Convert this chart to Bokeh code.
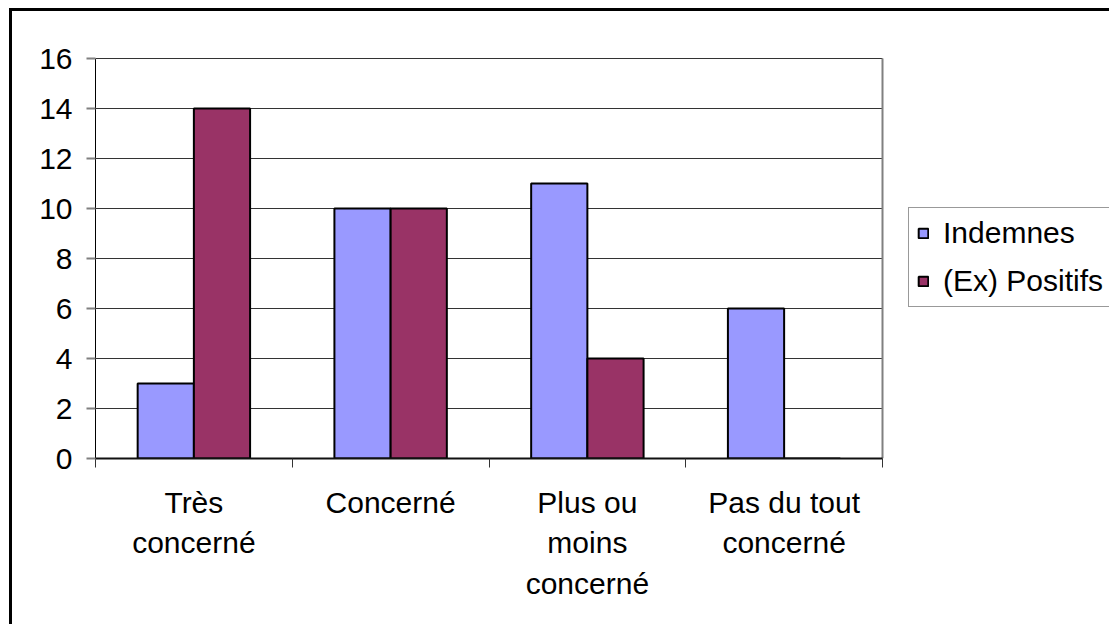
from bokeh.plotting import figure
from bokeh.models import FixedTicker, Legend, LegendItem, Range1d, ColumnDataSource
from bokeh.embed import file_html
from bokeh.resources import INLINE

categories = ["Très\nconcerné", "Concerné", "Plus ou\nmoins\nconcerné", "Pas du tout\nconcerné"]
indemnes = [3, 10, 11, 6]
positifs = [14, 10, 4, 0]
y_ticks = [0, 2, 4, 6, 8, 10, 12, 14, 16]
series_names = ["Indemnes", "(Ex) Positifs"]
colors = ["#9999FF", "#993366"]

FONT = "Liberation Sans"
n = len(categories)
y_max = 16
bar_w = 1 / 3.5
centers = [i + 0.5 for i in range(n)]

W, H = 1109, 624
left, top, bottom = 95, 50, 166
plot_w = 787            # width of the category area in px
frame_w = W - left
frame_h = H - top - bottom
px_per_unit_y = 400 / y_max
x_end = n * frame_w / plot_w
y_end = y_max + (frame_h - 400) / px_per_unit_y

p = figure(width=W, height=H, output_backend="svg", toolbar_location=None,
           x_range=Range1d(0, x_end), y_range=Range1d(0, y_end),
           min_border_left=left, min_border_top=top, min_border_right=0, min_border_bottom=bottom)
p.styles = {"background": "linear-gradient(#000,#000) 9px 8px / 3px 100% no-repeat, "
                          "linear-gradient(#000,#000) 9px 8px / 100% 3px no-repeat, #ffffff"}
p.border_fill_color = None
p.outline_line_color = None
p.background_fill_color = "white"

# grid lines across the category area only
p.xgrid.grid_line_color = None
p.ygrid.grid_line_color = None
p.segment(x0=[0] * len(y_ticks), x1=[n] * len(y_ticks), y0=y_ticks, y1=y_ticks,
          line_color="#333333", line_width=1)
# plot area right border
p.segment(x0=[n], x1=[n], y0=[0], y1=[y_max], line_color="#808080", line_width=2)

src1 = ColumnDataSource(dict(x=[c - bar_w / 2 for c in centers], top=indemnes))
src2 = ColumnDataSource(dict(x=[c + bar_w / 2 for c in centers], top=positifs))
r1 = p.vbar(x="x", top="top", width=bar_w, source=src1, fill_color=colors[0], line_color="black", line_width=2)
r2 = p.vbar(x="x", top="top", width=bar_w, source=src2, fill_color=colors[1], line_color="black", line_width=2)

# y axis
p.yaxis.bounds = (0, y_max)
p.yaxis.ticker = FixedTicker(ticks=y_ticks)
p.yaxis.minor_tick_line_color = None
p.yaxis.major_tick_in = 0
p.yaxis.major_tick_out = 9
p.yaxis.major_tick_line_color = "#808080"
p.yaxis.major_tick_line_width = 2
p.yaxis.axis_line_color = "black"
p.yaxis.axis_line_width = 1
p.yaxis.major_label_text_font = FONT
p.yaxis.major_label_text_font_size = "30px"
p.yaxis.major_label_text_color = "black"
p.yaxis.major_label_standoff = 14

# x axis: labels at centers, ticks at boundaries
p.xaxis.bounds = (0, n)
p.xaxis.ticker = FixedTicker(ticks=centers, minor_ticks=list(range(n + 1)))
p.xaxis.major_label_overrides = {c: lab for c, lab in zip(centers, categories)}
p.xaxis.major_tick_line_color = None
p.xaxis.major_tick_in = 0
p.xaxis.major_tick_out = 0
p.xaxis.minor_tick_in = 0
p.xaxis.minor_tick_out = 9
p.xaxis.minor_tick_line_color = "#333333"
p.xaxis.minor_tick_line_width = 1
p.xaxis.axis_line_color = "#111111"
p.xaxis.axis_line_width = 2
p.xaxis.major_label_text_font = FONT
p.xaxis.major_label_text_font_size = "30px"
p.xaxis.major_label_text_color = "black"
p.xaxis.major_label_text_line_height = 1.24
p.xaxis.major_label_standoff = 18

legend = Legend(items=[LegendItem(label=series_names[0], renderers=[r1]),
                       LegendItem(label=series_names[1], renderers=[r2])],
                location=(813, 151))
legend.glyph_width = 12
legend.glyph_height = 12
legend.label_text_font = FONT
legend.label_text_font_size = "30px"
legend.label_text_color = "black"
legend.label_height = 30
legend.spacing = 14
legend.padding = 8
legend.label_standoff = 14
legend.margin = 0
legend.border_line_color = "#333333"
legend.border_line_width = 1
legend.background_fill_color = "white"
legend.background_fill_alpha = 1
p.add_layout(legend, "center")

open("out.html", "w").write(file_html(p, INLINE))
